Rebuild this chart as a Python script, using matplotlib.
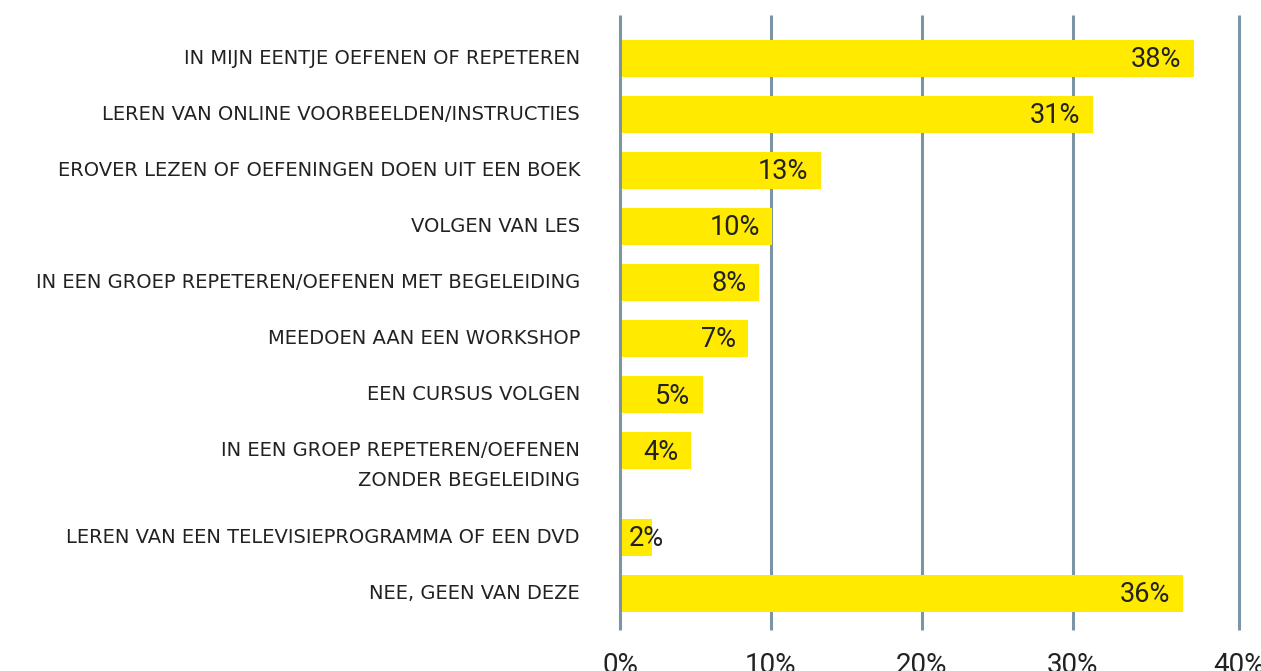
import matplotlib
matplotlib.use("Agg")
import matplotlib.pyplot as plt

plt.rcParams['font.family'] = ['Roboto', 'DejaVu Sans']

categories = [
    "IN MIJN EENTJE OEFENEN OF REPETEREN",
    "LEREN VAN ONLINE VOORBEELDEN/INSTRUCTIES",
    "EROVER LEZEN OF OEFENINGEN DOEN UIT EEN BOEK",
    "VOLGEN VAN LES",
    "IN EEN GROEP REPETEREN/OEFENEN MET BEGELEIDING",
    "MEEDOEN AAN EEN WORKSHOP",
    "EEN CURSUS VOLGEN",
    "IN EEN GROEP REPETEREN/OEFENEN\nZONDER BEGELEIDING",
    "LEREN VAN EEN TELEVISIEPROGRAMMA OF EEN DVD",
    "NEE, GEEN VAN DEZE",
]
# bar lengths as drawn in the reference (percent)
bar_values = [37.9, 31.2, 13.2, 10.0, 9.1, 8.4, 5.4, 4.6, 2.05, 37.2]
# printed value labels
value_labels = ["38%", "31%", "13%", "10%", "8%", "7%", "5%", "4%", "2%", "36%"]
xtick_labels = ["0%", "10%", "20%", "30%", "40%"]

YELLOW = "#FFEA00"
GRID = "#7B95A6"
TEXT = "#222222"

# y positions: one step per row, extra half step after a two-line label
ypos = []
y = 0.0
for cat in categories:
    ypos.append(y)
    y += 1.0 + 0.55 * cat.count("\n")

fig = plt.figure(figsize=(12.61, 6.71), dpi=100)
ax = fig.add_axes([620 / 1261, 1 - 630 / 671, (1239 - 620) / 1261, 615 / 671])
ax.set_xlim(0, 41)
ax.set_ylim(ypos[-1] + 0.652, -0.777)

# in the source the last gridline sits on the frame edge
xticks = [0, 10, 20, 30, ax.get_xlim()[1]]
ax.vlines(xticks, -0.777, ypos[-1] + 0.652, colors=GRID, linewidth=2.2,
          zorder=1, clip_on=False)
ax.barh(ypos, bar_values, height=0.66, color=YELLOW, zorder=2, left=0.1)

for yy, v, lab in zip(ypos, bar_values, value_labels):
    if v < 3:
        ax.annotate(lab, (0, yy), xytext=(6, -1), textcoords="offset points",
                    ha="left", va="center", fontsize=19.5, color=TEXT, zorder=3)
    else:
        ax.annotate(lab, (v, yy), xytext=(-8, -1), textcoords="offset points",
                    ha="right", va="center", fontsize=19.5, color=TEXT, zorder=3)

for yy, cat in zip(ypos, categories):
    for k, line in enumerate(cat.split("\n")):
        ax.annotate(line, (0, yy), xytext=(-28.8, -21.6 * k), textcoords="offset points",
                    ha="right", va="center", fontsize=14, color=TEXT,
                    family=["DejaVu Sans"], annotation_clip=False)

ax.set_yticks([])
ax.set_xticks(xticks)
ax.set_xticklabels(xtick_labels, fontsize=20, color=TEXT)
ax.tick_params(axis="x", length=0, pad=16)
for s in ax.spines.values():
    s.set_visible(False)

fig.savefig("out.png", dpi=100)
